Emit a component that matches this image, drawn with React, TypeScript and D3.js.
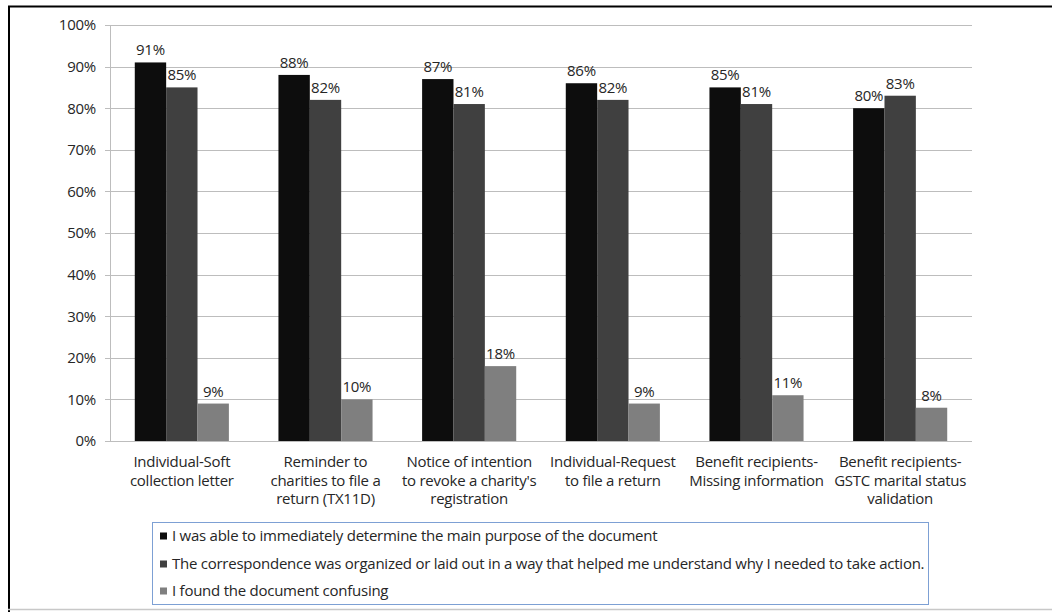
import React from "react";
import * as d3 from "d3";

// Survey results per correspondence type
const categories: string[] = [
  "Individual-Soft collection letter",
  "Reminder to charities to file a return (TX11D)",
  "Notice of intention to revoke a charity's registration",
  "Individual-Request to file a return",
  "Benefit recipients-Missing information",
  "Benefit recipients-GSTC marital status validation",
];

const categoryLines: string[][] = [
  ["Individual-Soft", "collection letter"],
  ["Reminder to", "charities to file a", "return (TX11D)"],
  ["Notice of intention", "to revoke a charity's", "registration"],
  ["Individual-Request", "to file a return"],
  ["Benefit recipients-", "Missing information"],
  ["Benefit recipients-", "GSTC marital status", "validation"],
];

const seriesNames: string[] = [
  "I was able to immediately determine the main purpose of the document",
  "The correspondence was organized or laid out in a way that helped me understand why I needed to take action.",
  "I found the document confusing",
];

const purposeValues: number[] = [91, 88, 87, 86, 85, 80];
const organizedValues: number[] = [85, 82, 81, 82, 81, 83];
const confusingValues: number[] = [9, 10, 18, 9, 11, 8];

const seriesColors: string[] = ["#0d0d0d", "#404040", "#7f7f7f"];

const yTicks: number[] = [0, 10, 20, 30, 40, 50, 60, 70, 80, 90, 100];

const FONT = "'Open Sans', sans-serif";
const TEXT = "#262626";
const LS = -0.25;

export default function App() {
  const W = 1052;
  const H = 612;
  const plot = { left: 110, right: 972, top: 25, bottom: 441 };

  const values = [purposeValues, organizedValues, confusingValues];

  const x0 = d3
    .scaleBand<string>()
    .domain(categories)
    .range([plot.left, plot.right])
    .paddingInner(0)
    .paddingOuter(0);

  const x1 = d3
    .scaleBand<string>()
    .domain(seriesNames)
    .range([0, x0.bandwidth()])
    .paddingInner(0)
    .paddingOuter(0.79);

  const y = d3.scaleLinear().domain([0, 100]).range([plot.bottom, plot.top]);

  const legend = { x: 152, y: 522, w: 776, h: 82 };
  const legendRows = [536, 564, 591];

  return (
    <svg
      width={W}
      height={H}
      style={{ position: "absolute", left: 0, top: 0, background: "#fff" }}
      fontFamily={FONT}
    >
      <rect x={0} y={0} width={W} height={H} fill="#fff" />

      {/* frame */}
      <line x1={8} x2={W} y1={6.5} y2={6.5} stroke="#000" strokeWidth={2} />
      <line x1={9} x2={9} y1={6} y2={H} stroke="#000" strokeWidth={2} />
      <line x1={8} x2={W} y1={609.5} y2={609.5} stroke="#c8c8c8" strokeWidth={1.5} />

      {/* gridlines and y ticks */}
      {yTicks.map((t) => (
        <g key={t}>
          <line
            x1={plot.left - 5}
            x2={plot.right}
            y1={Math.round(y(t)) + 0.5}
            y2={Math.round(y(t)) + 0.5}
            stroke="#bdbdbd"
            strokeWidth={1}
          />
          <text
            x={96}
            y={y(t)}
            dy="0.36em"
            textAnchor="end"
            fontSize={15}
            letterSpacing={LS}
            fill={TEXT}
          >
            {t}%
          </text>
        </g>
      ))}
      <line
        x1={plot.left + 0.5}
        x2={plot.left + 0.5}
        y1={plot.top}
        y2={plot.bottom}
        stroke="#bdbdbd"
      />

      {/* bars */}
      {categories.map((c, ci) => (
        <g key={c} transform={`translate(${x0(c)},0)`}>
          {seriesNames.map((s, si) => {
            const v = values[si][ci];
            const bx = x1(s) as number;
            return (
              <g key={s}>
                <rect
                  x={bx}
                  y={y(v)}
                  width={x1.bandwidth()}
                  height={y(0) - y(v)}
                  fill={seriesColors[si]}
                />
                <text
                  x={bx + x1.bandwidth() / 2}
                  y={y(v) - 7}
                  textAnchor="middle"
                  fontSize={15}
                  letterSpacing={LS}
                  fill={TEXT}
                >
                  {v}%
                </text>
              </g>
            );
          })}
        </g>
      ))}

      {/* category labels */}
      {categories.map((c, ci) => (
        <text
          key={c}
          x={(x0(c) as number) + x0.bandwidth() / 2}
          textAnchor="middle"
          fontSize={15}
          letterSpacing={LS}
          fill={TEXT}
        >
          {categoryLines[ci].map((line, li) => (
            <tspan key={li} x={(x0(c) as number) + x0.bandwidth() / 2} y={467 + li * 18.5}>
              {line}
            </tspan>
          ))}
        </text>
      ))}

      {/* legend */}
      <rect
        x={legend.x + 0.5}
        y={legend.y + 0.5}
        width={legend.w}
        height={legend.h}
        fill="#fff"
        stroke="#7da0d4"
        strokeWidth={1}
      />
      {seriesNames.map((s, si) => (
        <g key={s}>
          <rect
            x={160}
            y={legendRows[si] - 3.5}
            width={7}
            height={7}
            fill={seriesColors[si]}
          />
          <text
            x={172}
            y={legendRows[si]}
            dy="0.36em"
            fontSize={15}
            letterSpacing={LS}
            fill={TEXT}
          >
            {s}
          </text>
        </g>
      ))}
    </svg>
  );
}
